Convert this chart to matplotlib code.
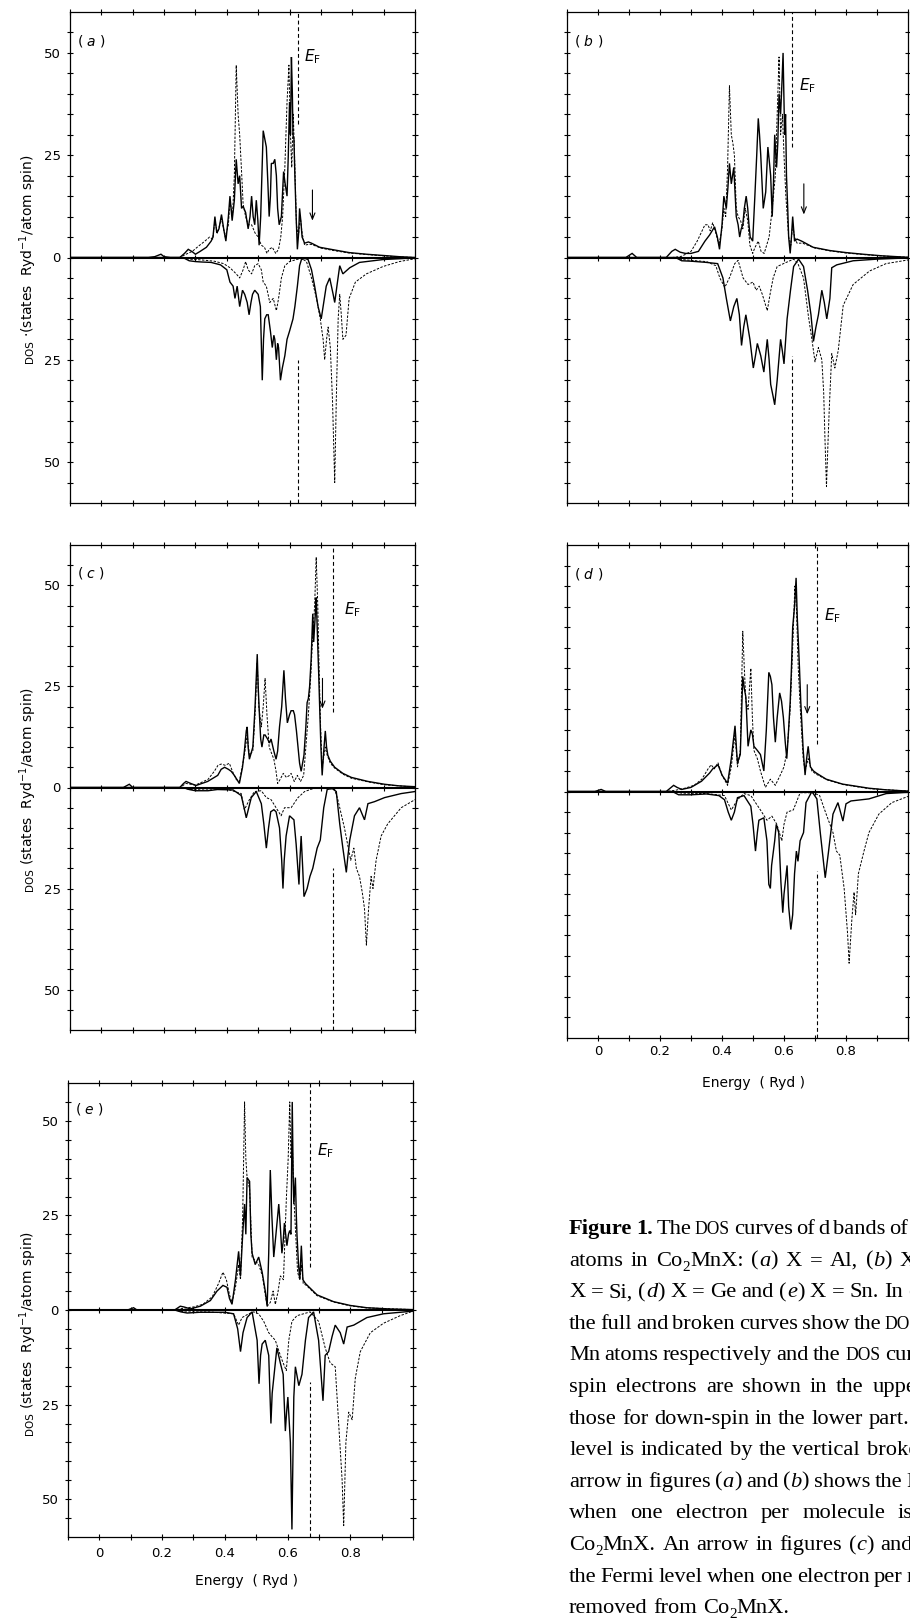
import re
import numpy as np
import matplotlib
matplotlib.use("Agg")
import matplotlib.pyplot as plt
from matplotlib.ticker import FixedLocator, FixedFormatter

# ---------------- data (energy in Ryd, DOS in states/Ryd/atom/spin) ----------------
# up-spin values are plotted upward, down-spin magnitudes are plotted downward
a_co_up = [(-0.1,0),(0.15,0),(0.17,0.2),(0.19,0.8),(0.2,0.2),(0.22,0),(0.25,0),(0.265,1),(0.277,2),(0.29,1.4),(0.30,0.8),(0.315,1.5),(0.335,2.5),(0.35,4),(0.356,5),(0.362,10),(0.368,6),(0.375,7),(0.383,10.5),(0.39,7),(0.397,4),(0.405,10),(0.41,15),(0.417,9),(0.424,14),(0.43,24),(0.436,18),(0.441,20),(0.447,12),(0.452,12.5),(0.46,11),(0.468,7),(0.474,10),(0.479,15),(0.484,10),(0.489,8),(0.494,14),(0.499,9),(0.503,3),(0.508,10),(0.516,31),(0.521,29),(0.526,27),(0.531,18),(0.535,10),(0.539,15),(0.542,23),(0.548,23),(0.553,24),(0.558,20),(0.562,12),(0.567,8),(0.574,10),(0.581,21),(0.586,18),(0.592,15),(0.596,25),(0.6,38),(0.603,30),(0.606,49),(0.609,40),(0.611,30),(0.614,29),(0.617,20),(0.621,10),(0.625,2),(0.629,6),(0.632,12),(0.636,9),(0.64,5),(0.648,3.5),(0.66,3.8),(0.67,3.5),(0.696,2.5),(0.739,1.9),(0.79,1.2),(0.845,0.8),(0.898,0.5),(0.95,0.2),(1.0,0)]
a_mn_up = [(-0.1,0),(0.25,0),(0.27,0.8),(0.29,1.5),(0.31,2.8),(0.33,4),(0.345,5),(0.355,4.5),(0.362,9),(0.37,6),(0.383,9.5),(0.395,5),(0.405,8),(0.41,14),(0.418,10),(0.424,20),(0.43,47),(0.436,35),(0.441,30),(0.447,21),(0.452,13),(0.46,10),(0.468,8),(0.479,8),(0.49,6),(0.5,5),(0.51,3),(0.52,2.5),(0.528,1),(0.535,2),(0.545,2.5),(0.556,1),(0.565,2),(0.572,5),(0.578,10),(0.585,22),(0.592,38),(0.598,47),(0.603,30),(0.607,22),(0.612,35),(0.617,22),(0.622,8),(0.628,5),(0.634,10),(0.64,6),(0.648,3),(0.66,3.2),(0.67,3.2),(0.7,2.3),(0.74,1.7),(0.79,1.1),(0.85,0.7),(0.9,0.4),(0.95,0.15),(1.0,0)]
a_co_dn = [(-0.1,0),(0.26,0),(0.28,0.8),(0.3,1),(0.32,1.1),(0.35,1.2),(0.38,1.8),(0.4,3),(0.41,6),(0.42,7),(0.426,10),(0.433,7),(0.441,12),(0.45,8),(0.457,9),(0.465,11),(0.471,14),(0.477,11),(0.482,9),(0.489,8),(0.5,9),(0.507,12),(0.513,30),(0.517,20),(0.521,15),(0.527,14),(0.532,14),(0.539,18),(0.545,22),(0.55,19),(0.553,20),(0.558,25),(0.562,21),(0.565,22),(0.571,30),(0.577,27),(0.585,24),(0.592,20),(0.6,18),(0.611,15),(0.617,12),(0.625,7),(0.632,2),(0.638,0.5),(0.648,0.2),(0.659,0.5),(0.67,3),(0.68,7),(0.691,12),(0.701,15),(0.709,11),(0.717,7),(0.728,5),(0.739,9),(0.744,11),(0.751,7),(0.76,2),(0.77,4),(0.792,2.5),(0.823,1.2),(0.898,0.5),(1.0,0.1)]
a_mn_dn = [(-0.1,0),(0.26,0),(0.28,0.4),(0.32,0.6),(0.36,0.9),(0.39,1.5),(0.41,2.5),(0.43,4),(0.441,5),(0.452,3),(0.46,1),(0.468,3),(0.479,4),(0.489,2),(0.5,1.5),(0.51,3),(0.516,6),(0.526,7),(0.537,11),(0.548,10),(0.558,13),(0.565,10),(0.574,5),(0.585,2),(0.6,1),(0.622,0.5),(0.638,0.2),(0.654,1),(0.67,5),(0.686,10),(0.698,15),(0.707,20),(0.712,25),(0.718,20),(0.723,17),(0.73,22),(0.737,35),(0.744,55),(0.749,35),(0.755,15),(0.76,9),(0.765,14),(0.77,20),(0.78,19),(0.79,10),(0.81,6),(0.845,4),(0.898,2.2),(0.95,1),(1.0,0.3)]

b_co_up = [(-0.1,0),(0.09,0),(0.11,1),(0.125,0),(0.22,0),(0.238,1.5),(0.249,2),(0.265,1.3),(0.282,1),(0.3,1),(0.324,1.5),(0.345,4),(0.36,5.5),(0.376,7.5),(0.385,5),(0.392,2),(0.4,8),(0.406,15),(0.414,12),(0.419,17),(0.424,23),(0.43,18),(0.438,22),(0.446,10),(0.452,8),(0.457,5),(0.462,7),(0.467,8),(0.472,12),(0.478,15),(0.483,12),(0.487,8),(0.491,5),(0.499,4),(0.506,15),(0.512,25),(0.517,34),(0.521,30),(0.525,25),(0.533,12),(0.541,16),(0.548,27),(0.552,24),(0.557,20),(0.562,10),(0.566,18),(0.57,30),(0.576,22),(0.58,28),(0.584,40),(0.589,35),(0.593,42),(0.597,50),(0.6,38),(0.602,30),(0.605,35),(0.608,20),(0.612,12),(0.615,5),(0.62,1),(0.624,5),(0.628,10),(0.631,7),(0.634,4),(0.642,4.5),(0.657,4),(0.694,2.5),(0.748,1.7),(0.8,1.2),(0.855,0.8),(0.918,0.4),(1.0,0.05)]
b_mn_up = [(-0.1,0),(0.24,0),(0.27,0.3),(0.3,1.5),(0.32,4),(0.345,8),(0.355,8),(0.362,6.5),(0.37,8.5),(0.38,6),(0.39,3),(0.4,7),(0.406,12),(0.412,10),(0.418,22),(0.424,42),(0.43,30),(0.435,28),(0.44,25),(0.446,12),(0.452,10),(0.46,9),(0.467,7),(0.475,12),(0.483,9),(0.49,3),(0.499,1),(0.506,2.4),(0.517,4),(0.526,1.5),(0.536,1),(0.544,3),(0.552,5),(0.562,12),(0.572,20),(0.578,35),(0.584,49),(0.589,30),(0.595,35),(0.6,25),(0.606,15),(0.615,5),(0.622,3),(0.628,8),(0.634,5),(0.642,3.5),(0.66,3.5),(0.7,2.3),(0.75,1.6),(0.8,1.1),(0.86,0.7),(0.92,0.35),(1.0,0.05)]
b_co_dn = [(-0.1,0),(0.25,0),(0.27,0.8),(0.3,0.9),(0.35,1.2),(0.386,1.5),(0.403,5),(0.414,10),(0.427,15.5),(0.438,12),(0.448,10),(0.456,14),(0.463,21.5),(0.47,17),(0.477,14),(0.49,20),(0.501,27),(0.508,24),(0.514,21),(0.525,24),(0.535,28),(0.546,20),(0.552,25),(0.557,31),(0.565,34),(0.57,36),(0.578,30),(0.589,20),(0.595,23),(0.6,26),(0.61,15),(0.621,8),(0.631,2.2),(0.647,0.4),(0.663,2.2),(0.676,8),(0.687,14),(0.695,20.5),(0.703,17),(0.711,14),(0.722,8),(0.73,11),(0.738,15),(0.748,10),(0.754,2.5),(0.77,1.8),(0.823,0.8),(0.9,0.4),(1.0,0.1)]
b_mn_dn = [(-0.1,0),(0.25,0),(0.27,0.5),(0.3,0.7),(0.35,1),(0.38,2),(0.393,5),(0.409,7.3),(0.425,4.8),(0.441,1.5),(0.452,0.7),(0.468,5),(0.484,6.6),(0.5,6),(0.51,8),(0.52,7),(0.53,9),(0.546,13),(0.555,9),(0.565,5),(0.578,2.2),(0.61,1.1),(0.631,0.4),(0.645,1.5),(0.663,5),(0.679,14.5),(0.69,20),(0.7,25.5),(0.711,22),(0.722,25),(0.728,33),(0.732,44),(0.737,56),(0.742,45),(0.746,37),(0.754,23.5),(0.764,27),(0.775,22.7),(0.791,11.7),(0.823,6.6),(0.876,3.3),(0.929,1.5),(1.0,0.6)]

c_co_up = [(-0.1,0),(0.07,0),(0.089,0.8),(0.1,0),(0.25,0),(0.262,1),(0.27,1.5),(0.285,1),(0.302,0.5),(0.339,1.5),(0.371,3),(0.382,4.5),(0.393,5),(0.405,4.5),(0.414,4),(0.424,3),(0.44,1),(0.45,5),(0.456,9),(0.462,14),(0.465,15),(0.468,10),(0.472,7),(0.483,10),(0.49,20),(0.497,33),(0.5,25),(0.504,18),(0.508,12),(0.512,10),(0.518,13),(0.522,13),(0.53,12),(0.536,11),(0.541,12),(0.55,9),(0.557,7),(0.562,9),(0.568,15),(0.575,20),(0.582,29),(0.587,22),(0.593,16),(0.6,18),(0.605,19),(0.612,19),(0.616,18),(0.622,14),(0.627,10),(0.632,6),(0.637,4),(0.646,8),(0.652,15),(0.656,21),(0.66,22),(0.664,25),(0.669,32),(0.674,43),(0.677,36),(0.68,40),(0.683,44),(0.685,47),(0.688,40),(0.69,35),(0.693,28),(0.696,20),(0.7,10),(0.704,3),(0.709,9),(0.714,14),(0.718,10),(0.722,8),(0.73,6.5),(0.744,5),(0.77,3.5),(0.797,2.5),(0.85,1.5),(0.903,0.8),(0.95,0.4),(1.0,0.2)]
c_mn_up = [(-0.1,0),(0.25,0),(0.27,1),(0.3,0.6),(0.34,2),(0.36,4),(0.372,5.5),(0.382,5.8),(0.395,5.5),(0.408,6),(0.418,4),(0.43,2),(0.44,1.5),(0.456,8),(0.465,13),(0.472,8),(0.483,9),(0.49,18),(0.497,31),(0.502,20),(0.51,15),(0.516,20),(0.522,27),(0.528,18),(0.535,10),(0.545,8),(0.55,7),(0.557,4),(0.562,1),(0.57,2),(0.58,3.5),(0.59,2.5),(0.6,3),(0.605,3.5),(0.615,1.5),(0.625,3),(0.635,1.5),(0.645,3),(0.652,10),(0.66,18),(0.668,28),(0.674,38),(0.68,45),(0.685,57),(0.69,45),(0.694,30),(0.699,15),(0.704,5),(0.71,8),(0.714,10),(0.72,8),(0.73,6),(0.744,4.8),(0.77,3.3),(0.797,2.3),(0.85,1.4),(0.9,0.7),(1.0,0.1)]
c_co_dn = [(-0.1,0),(0.26,0),(0.28,0.5),(0.3,0.8),(0.34,0.8),(0.37,0.5),(0.42,0.6),(0.446,2),(0.455,5),(0.462,7.5),(0.47,5),(0.478,2.5),(0.494,1),(0.51,4),(0.518,9),(0.526,15),(0.533,10),(0.54,6),(0.55,5.5),(0.557,6),(0.568,10),(0.575,18),(0.579,25),(0.583,18),(0.589,12),(0.6,7),(0.614,8),(0.621,14),(0.63,24),(0.633,18),(0.637,12),(0.642,20),(0.646,27),(0.651,26),(0.656,25),(0.665,22),(0.674,20),(0.688,15),(0.698,13),(0.709,5),(0.72,0.5),(0.735,0.2),(0.749,1),(0.76,9),(0.77,15),(0.781,21),(0.786,17),(0.792,13),(0.807,7),(0.823,5),(0.839,8),(0.85,4),(0.871,3.5),(0.903,2.5),(0.956,1.5),(1.0,1)]
c_mn_dn = [(-0.1,0),(0.26,0),(0.28,0.5),(0.32,0.4),(0.4,0.4),(0.446,1.5),(0.456,5.5),(0.472,3),(0.488,1),(0.51,0.8),(0.526,2.5),(0.541,3),(0.557,5),(0.573,7),(0.584,5),(0.605,5),(0.627,2.5),(0.648,1),(0.674,0.3),(0.701,0),(0.744,0.5),(0.754,3),(0.775,10),(0.785,14),(0.795,18),(0.805,15),(0.813,20),(0.823,22),(0.832,26),(0.839,30),(0.845,39),(0.852,30),(0.86,22),(0.866,25),(0.876,18),(0.892,12),(0.913,9),(0.956,5),(1.0,3)]

d_co_up = [(-0.1,0),(-0.01,0),(0.01,0.5),(0.025,0),(0.22,0),(0.244,1.5),(0.255,1),(0.27,0.5),(0.3,1),(0.334,2.5),(0.36,4.5),(0.37,5.5),(0.387,6.5),(0.395,5),(0.4,4),(0.418,2),(0.43,8),(0.436,12),(0.442,16),(0.447,10),(0.45,7),(0.459,9),(0.467,28),(0.472,25),(0.477,23),(0.484,11),(0.493,15),(0.498,14),(0.503,11),(0.514,10),(0.524,9),(0.535,5),(0.543,15),(0.551,29),(0.556,28),(0.561,26),(0.566,18),(0.572,12),(0.578,18),(0.586,24),(0.592,22),(0.598,18),(0.604,12),(0.609,8),(0.614,14),(0.62,22),(0.624,30),(0.628,40),(0.634,45),(0.639,52),(0.643,42),(0.646,37),(0.65,30),(0.654,22),(0.662,10),(0.668,4),(0.673,8),(0.678,11),(0.685,6),(0.695,5),(0.704,4.5),(0.736,3),(0.789,1.8),(0.874,0.8),(0.93,0.4),(1.0,0.1)]
d_mn_up = [(-0.1,0),(0.22,0),(0.25,0.3),(0.28,0.8),(0.31,1.5),(0.335,3),(0.355,5.5),(0.365,6.5),(0.375,5.5),(0.387,7),(0.4,4),(0.418,1.5),(0.43,6),(0.442,14),(0.45,6),(0.459,10),(0.467,39),(0.472,30),(0.477,22),(0.484,20),(0.493,30),(0.498,18),(0.503,10),(0.514,8),(0.524,5),(0.54,1),(0.556,3),(0.572,1.5),(0.588,4),(0.6,6),(0.61,10),(0.62,20),(0.628,35),(0.635,50),(0.64,45),(0.646,30),(0.654,18),(0.662,8),(0.668,5),(0.678,8),(0.69,5),(0.704,4.2),(0.74,2.8),(0.79,1.7),(0.874,0.7),(1.0,0.1)]
d_co_dn = [(-0.1,0),(0.24,0),(0.26,0.8),(0.3,0.8),(0.35,0.6),(0.39,1),(0.408,2),(0.42,5),(0.43,7),(0.44,5),(0.45,1.5),(0.471,1),(0.493,3.6),(0.5,8),(0.508,14.5),(0.514,10),(0.519,7),(0.535,6.4),(0.545,12),(0.551,22.6),(0.556,23.6),(0.56,18),(0.57,12),(0.575,8),(0.583,10),(0.59,22),(0.596,29.5),(0.6,25),(0.61,18),(0.615,28),(0.622,33.6),(0.628,30),(0.634,20),(0.64,14.5),(0.645,17),(0.652,12),(0.663,10),(0.671,2.7),(0.69,0),(0.706,1.8),(0.717,10),(0.733,21),(0.743,15),(0.758,5.5),(0.774,2.7),(0.79,7.2),(0.8,3),(0.816,2.3),(0.874,1.8),(0.93,0.5),(1.0,0.2)]
d_mn_dn = [(-0.1,0),(0.24,0),(0.27,0.4),(0.35,0.5),(0.408,1),(0.43,4.5),(0.45,2),(0.471,0.5),(0.493,1),(0.508,2.7),(0.524,4.5),(0.545,7),(0.561,6),(0.577,8),(0.593,12),(0.6,8),(0.61,5),(0.63,4.5),(0.652,0.3),(0.695,0.3),(0.715,1),(0.736,5.5),(0.758,10),(0.769,14.5),(0.78,15.5),(0.794,23.6),(0.805,34.5),(0.81,41.8),(0.819,31),(0.826,24.5),(0.831,30),(0.84,20),(0.858,14.5),(0.874,10),(0.906,5.5),(0.948,2.7),(1.0,1.2)]

e_co_up = [(-0.1,0),(0.09,0),(0.109,0.6),(0.12,0),(0.24,0),(0.258,1),(0.27,0.8),(0.29,0.3),(0.322,1),(0.354,2.5),(0.375,5),(0.394,6.5),(0.407,6),(0.415,3),(0.423,1.5),(0.434,8),(0.444,15.5),(0.45,9),(0.457,20),(0.463,28),(0.467,20),(0.471,35),(0.479,34),(0.483,20),(0.487,15),(0.497,12),(0.508,14),(0.519,10),(0.529,5),(0.535,1),(0.54,15),(0.545,37),(0.55,25),(0.556,14),(0.563,20),(0.572,28),(0.577,22),(0.582,15),(0.586,18),(0.59,23),(0.594,20),(0.598,17),(0.603,20),(0.607,21),(0.611,20),(0.615,55),(0.618,35),(0.62,28),(0.625,35),(0.628,25),(0.63,20),(0.635,12),(0.639,8),(0.644,17),(0.649,8),(0.657,7),(0.694,4),(0.747,2.2),(0.8,1.2),(0.853,0.6),(0.93,0.25),(1.0,0.1)]
e_mn_up = [(-0.1,0),(0.24,0),(0.27,0.5),(0.3,0.8),(0.33,1.5),(0.36,3.5),(0.38,7),(0.394,10),(0.405,8),(0.415,4),(0.423,2),(0.434,6),(0.444,12),(0.45,8),(0.457,25),(0.463,55),(0.467,40),(0.471,35),(0.479,32),(0.487,14),(0.497,13),(0.508,12),(0.52,9),(0.529,4),(0.535,1),(0.545,2),(0.554,5),(0.561,1.5),(0.57,5),(0.577,9),(0.587,8),(0.596,29),(0.602,40),(0.607,55),(0.611,40),(0.615,45),(0.62,30),(0.626,20),(0.632,10),(0.639,8),(0.645,12),(0.65,7),(0.66,6.5),(0.694,3.8),(0.747,2.1),(0.8,1.1),(0.853,0.55),(1.0,0.1)]
e_co_dn = [(-0.1,0),(0.24,0),(0.26,0.5),(0.28,0.8),(0.32,0.6),(0.4,0.6),(0.428,1),(0.441,5),(0.45,11),(0.458,6),(0.471,2),(0.487,0.5),(0.503,8),(0.509,19.5),(0.514,12),(0.519,9),(0.529,8),(0.54,12),(0.547,30),(0.551,22),(0.556,18),(0.566,10),(0.577,14),(0.586,17),(0.593,32),(0.597,27),(0.601,23),(0.609,35),(0.614,58),(0.617,40),(0.62,23),(0.625,15),(0.636,20),(0.646,17),(0.657,8),(0.667,2),(0.683,0.5),(0.699,8),(0.713,24),(0.72,12),(0.731,11),(0.742,7),(0.752,4),(0.768,6),(0.779,9),(0.79,4.5),(0.811,4),(0.853,2),(0.906,1),(1.0,0.3)]
e_mn_dn = [(-0.1,0),(0.24,0),(0.27,0.5),(0.35,0.5),(0.428,1),(0.444,4),(0.455,2),(0.476,1),(0.492,0.5),(0.508,1),(0.524,3),(0.54,6),(0.55,7),(0.561,8),(0.577,12),(0.586,14),(0.596,16),(0.604,8),(0.614,3),(0.63,1.5),(0.651,1),(0.672,0.5),(0.699,3),(0.72,10),(0.736,14),(0.752,15),(0.763,30),(0.774,45),(0.779,57),(0.786,35),(0.795,27),(0.806,29),(0.816,18),(0.832,11),(0.864,6),(0.906,3.5),(0.959,1.5),(1.0,0.3)]

panel_letters = ['a', 'b', 'c', 'd', 'e']
fermi_energy = [0.627, 0.626, 0.738, 0.705, 0.672]
fermi_gap_top = [32.6, 27.0, 18.6, 11.6, 11.4]      # broken line stops at this up-spin value
fermi_gap_bottom = [25.0, 24.0, 20.0, 19.4, 19.0]   # and resumes at this down-spin value
arrow_energy = [0.673, 0.664, 0.705, 0.675, None]
arrow_from = [16.5, 18.0, 27.0, 26.0, None]
arrow_to = [9.0, 10.5, 19.5, 18.8, None]

x_ticks = [-0.1, 0.0, 0.1, 0.2, 0.3, 0.4, 0.5, 0.6, 0.7, 0.8, 0.9, 1.0]
x_tick_labels = ['', '0', '', '0.2', '', '0.4', '', '0.6', '', '0.8', '', '']
y_ticks = [-55, -50, -45, -40, -35, -30, -25, -20, -15, -10, -5, 0, 5, 10, 15, 20, 25, 30, 35, 40, 45, 50, 55]
y_tick_labels = ['' if v % 25 else str(abs(v)) for v in y_ticks]

curves = {
    'a': (a_co_up, a_mn_up, a_co_dn, a_mn_dn),
    'b': (b_co_up, b_mn_up, b_co_dn, b_mn_dn),
    'c': (c_co_up, c_mn_up, c_co_dn, c_mn_dn),
    'd': (d_co_up, d_mn_up, d_co_dn, d_mn_dn),
    'e': (e_co_up, e_mn_up, e_co_dn, e_mn_dn),
}

# ---------------- layout (pixels, from top-left) ----------------
W, H, DPI = 910, 1622, 100
layout = {
    'a': dict(rect=(70, 415, 12, 503), ylab=True, xlab=False, ef_lab=(0.645, 49), ylab_c=259),
    'b': dict(rect=(567, 908, 12, 503), ylab=False, xlab=False, ef_lab=(0.648, 42)),
    'c': dict(rect=(70, 415, 545, 1030), ylab=True, xlab=False, ef_lab=(0.773, 44), ylab_c=789),
    'd': dict(rect=(567, 908, 545, 1038), ylab=False, xlab=True, ef_lab=(0.73, 42.8), xpad=2.5, elab=(753, 1083)),
    'e': dict(rect=(68, 413, 1083, 1537), ylab=True, xlab=True, ef_lab=(0.693, 42), ylab_c=1333, xpad=5.0, elab=(247, 1581)),
}

plt.rcParams['font.family'] = ['DejaVu Sans']
plt.rcParams['mathtext.fontset'] = 'dejavusans'
fig = plt.figure(figsize=(W / DPI, H / DPI), dpi=DPI)
fig.patch.set_facecolor('white')
R = fig.canvas.get_renderer()

SOLID = dict(color='black', lw=1.0, solid_joinstyle='miter')
DASH = dict(color='black', lw=0.7, ls=(0, (2.5, 1.5)))


def fx(px):
    return px / W


def fy(py):
    return 1 - py / H


for i, key in enumerate(panel_letters):
    L = layout[key]
    l, r, t, b = L['rect']
    ax = fig.add_axes([fx(l), fy(b), (r - l) / W, (b - t) / H])
    ax.set_xlim(-0.1, 1.0)
    ax.set_ylim(-60, 60)
    for s in ax.spines.values():
        s.set_linewidth(0.9)
    ax.xaxis.set_major_locator(FixedLocator(x_ticks))
    ax.yaxis.set_major_locator(FixedLocator(y_ticks))
    ax.xaxis.set_major_formatter(FixedFormatter(x_tick_labels if L['xlab'] else [''] * len(x_ticks)))
    ax.yaxis.set_major_formatter(FixedFormatter(y_tick_labels if L['ylab'] else [''] * len(y_ticks)))
    ax.tick_params(axis='both', direction='inout', length=5, width=0.8, top=True, right=True,
                   labelsize=9.5)
    ax.tick_params(axis='y', pad=4)
    ax.tick_params(axis='x', pad=L.get('xpad', 3))

    co_up, mn_up, co_dn, mn_dn = (np.array(c, dtype=float) for c in curves[key])
    ax.plot(co_up[:, 0], co_up[:, 1], **SOLID)
    ax.plot(mn_up[:, 0], mn_up[:, 1], **DASH)
    ax.plot(co_dn[:, 0], -co_dn[:, 1], **SOLID)
    ax.plot(mn_dn[:, 0], -mn_dn[:, 1], **DASH)

    # zero line with its tick marks
    ax.axhline(0, color='black', lw=1.5)
    ax.plot(x_ticks, np.zeros(len(x_ticks)), ls='none', marker='|', ms=5, mew=0.8, color='black')

    # Fermi level (broken line interrupted around the curves)
    ef = fermi_energy[i]
    ax.vlines(ef, fermi_gap_top[i], 60, colors='black', lw=0.8, linestyles=(0, (3.5, 2.5)))
    ax.vlines(ef, -60, -fermi_gap_bottom[i], colors='black', lw=0.8, linestyles=(0, (3.5, 2.5)))
    ex, ey = L['ef_lab']
    ax.text(ex, ey, r'$E_{\mathrm{F}}$', fontsize=11, ha='left', va='center')

    if arrow_energy[i] is not None:
        ax.annotate('', xy=(arrow_energy[i], arrow_to[i]), xytext=(arrow_energy[i], arrow_from[i]),
                    arrowprops=dict(arrowstyle='->,head_length=0.45,head_width=0.18', lw=0.8,
                                    color='black', shrinkA=0, shrinkB=0))

    ax.text(-0.078, 53, '( $' + key + '$ )', fontsize=10, ha='left', va='center')

    if L['xlab']:
        xc, yc = L['elab']
        fig.text(fx(xc), fy(yc), 'Energy  ( Ryd )', fontsize=10, ha='center', va='center')


# ---------------- helpers for runs of text ----------------
def measure(s, **kw):
    tt = fig.text(0, 0, s, **kw)
    w = tt.get_window_extent(renderer=R).width
    tt.remove()
    return w


def vlabel(xb, yc, pieces, gap=3):
    ws = [measure(s, **kw) for s, kw in pieces]
    total = sum(ws) + gap * (len(pieces) - 1)
    y = yc + total / 2
    for (s, kw), w in zip(pieces, ws):
        fig.text(fx(xb), fy(y), s, rotation=90, rotation_mode='anchor', ha='left', va='baseline', **kw)
        y -= w + gap


for key in ['a', 'c', 'e']:
    first = 'DOS'
    rest = ('\u00b7(states  Ryd$^{-1}$/atom spin)' if key == 'a' else '(states  Ryd$^{-1}$/atom spin)')
    vlabel(33, layout[key]['ylab_c'], [(first, dict(fontsize=7.5)), (rest, dict(fontsize=10))])

# ---------------- caption ----------------
FS = 16.2
SERIF = 'Liberation Serif'
STY = {
    'r': dict(family=SERIF, size=FS),
    'b': dict(family=SERIF, size=FS, weight='bold'),
    'i': dict(family=SERIF, size=FS, style='italic'),
    'sc': dict(family=SERIF, size=FS * 0.78),
    'sub': dict(family=SERIF, size=FS * 0.68),
}
SUB_DY = FS * 0.22 * DPI / 72
SPACE_W = measure('a a', **STY['r']) - measure('aa', **STY['r'])

caption = [
    [('Figure 1.', 'b'), (' The ', 'r'), ('DOS', 'sc'), (' curves of d bands of Co and Mn', 'r')],
    [('atoms in Co', 'r'), ('2', 'sub'), ('MnX: (', 'r'), ('a', 'i'), (') X = Al, (', 'r'), ('b', 'i'),
     (') X = Ga, (', 'r'), ('c', 'i'), (')', 'r')],
    [('X = Si, (', 'r'), ('d', 'i'), (') X = Ge and (', 'r'), ('e', 'i'), (') X = Sn. In each figure', 'r')],
    [('the full and broken curves show the ', 'r'), ('DOS', 'sc'), (' of Co and', 'r')],
    [('Mn atoms respectively and the ', 'r'), ('DOS', 'sc'), (' curves for up-', 'r')],
    [('spin electrons are shown in the upper part and', 'r')],
    [('those for down-spin in the lower part. The Fermi', 'r')],
    [('level is indicated by the vertical broken line. An', 'r')],
    [('arrow in figures (', 'r'), ('a', 'i'), (') and (', 'r'), ('b', 'i'), (') shows the Fermi level', 'r')],
    [('when one electron per molecule is added to', 'r')],
    [('Co', 'r'), ('2', 'sub'), ('MnX. An arrow in figures (', 'r'), ('c', 'i'), (') and (', 'r'), ('d', 'i'),
     (') shows', 'r')],
    [('the Fermi level when one electron per molecule is', 'r')],
    [('removed from Co', 'r'), ('2', 'sub'), ('MnX.', 'r')],
]

CAP_X, CAP_Y0, CAP_DY, CAP_W = 569, 1234, 31.6, 440


def draw_line(segs, x0, ybase, width=None):
    items = []
    for text, st in segs:
        for tok in re.split(r'( )', text):
            if tok:
                items.append((tok == ' ', tok, st))
    widths = [SPACE_W if sp else measure(tok, **STY[st]) for sp, tok, st in items]
    nsp = sum(1 for it in items if it[0])
    extra = 0.0
    if width is not None and nsp:
        extra = max((width - sum(widths)) / nsp, -0.4 * SPACE_W)
    x = x0
    for (sp, tok, st), w in zip(items, widths):
        if sp:
            x += w + extra
            continue
        dy = SUB_DY if st == 'sub' else 0.0
        if x < W:
            fig.text(fx(x), fy(ybase + dy), tok, ha='left', va='baseline', **STY[st])
        x += w


for k, segs in enumerate(caption):
    draw_line(segs, CAP_X, CAP_Y0 + k * CAP_DY, None if k == len(caption) - 1 else CAP_W)

fig.savefig('out.png', dpi=DPI, facecolor='white')
